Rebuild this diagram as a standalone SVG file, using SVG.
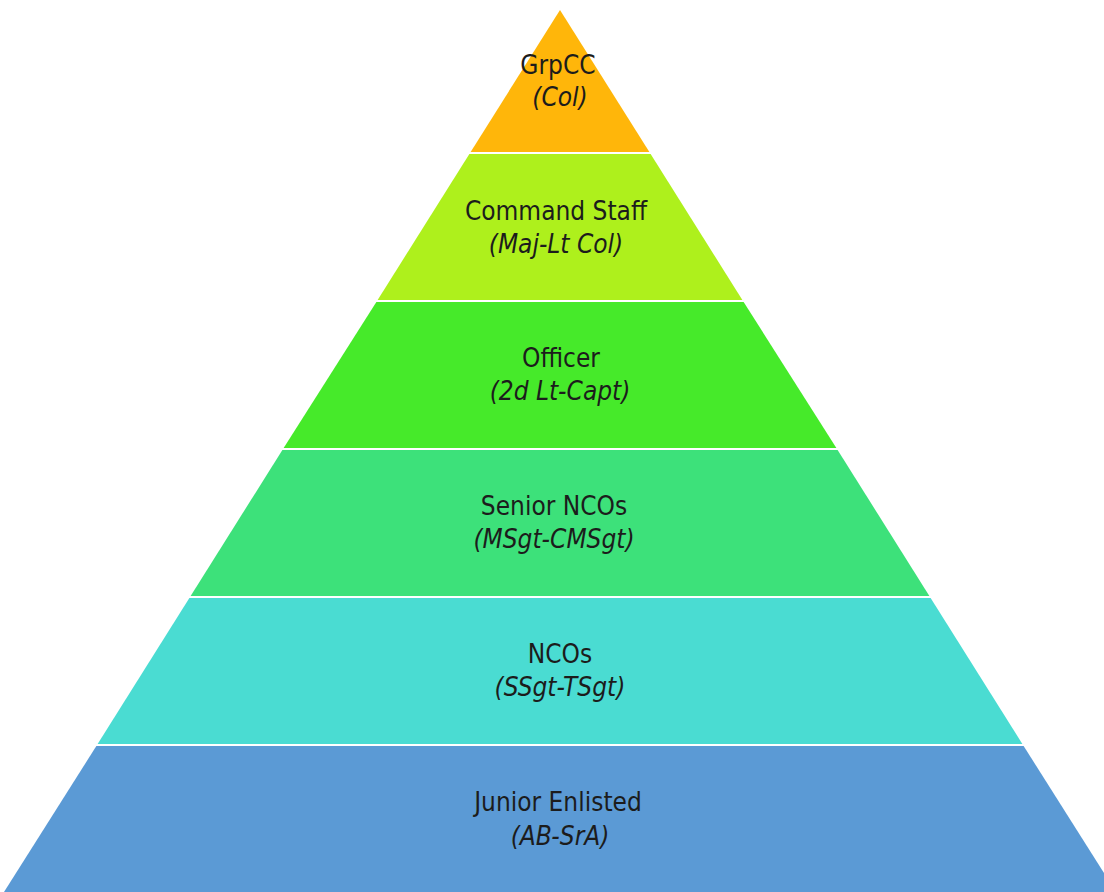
<svg xmlns="http://www.w3.org/2000/svg" width="1104" height="892" viewBox="0 0 1104 892">
<style>
.t{font-family:"DejaVu Sans Condensed","DejaVu Sans",sans-serif;font-size:26px;fill:#1c1c1c;text-anchor:middle}
.i{font-style:italic}
.sep{stroke:#ffffff;stroke-width:2}
</style>
<rect width="1104" height="892" fill="#ffffff"/>
<g id="band1"><polygon points="560,10 650,153 470,153" fill="#FFB60A"/>
<text class="t" x="558" y="74">GrpCC</text>
<text class="t i" x="560" y="106">(Col)</text></g>
<g id="band2"><polygon points="470,153 650,153 743,301 377,301" fill="#AEF01C"/>
<text class="t" x="556" y="220">Command Staff</text>
<text class="t i" x="556" y="253">(Maj-Lt Col)</text></g>
<g id="band3"><polygon points="377,301 743,301 837,449 283,449" fill="#46EA2A"/>
<text class="t" x="561" y="367">Officer</text>
<text class="t i" x="560" y="400">(2d Lt-Capt)</text></g>
<g id="band4"><polygon points="283,449 837,449 930,597 190,597" fill="#3DE17A"/>
<text class="t" x="554" y="515">Senior NCOs</text>
<text class="t i" x="554" y="548">(MSgt-CMSgt)</text></g>
<g id="band5"><polygon points="190,597 930,597 1023,745 97,745" fill="#4ADCD2"/>
<text class="t" x="560" y="663">NCOs</text>
<text class="t i" x="560" y="696">(SSgt-TSgt)</text></g>
<g id="band6"><polygon points="97,745 1023,745 1116,892 4,892" fill="#5B9AD5"/>
<text class="t" x="558" y="811">Junior Enlisted</text>
<text class="t i" x="560" y="845">(AB-SrA)</text></g>
<g id="connectors">
<line class="sep" x1="465" y1="153" x2="655" y2="153"/>
<line class="sep" x1="372" y1="301" x2="748" y2="301"/>
<line class="sep" x1="278" y1="449" x2="842" y2="449"/>
<line class="sep" x1="185" y1="597" x2="935" y2="597"/>
<line class="sep" x1="92" y1="745" x2="1028" y2="745"/>
</g>
</svg>
